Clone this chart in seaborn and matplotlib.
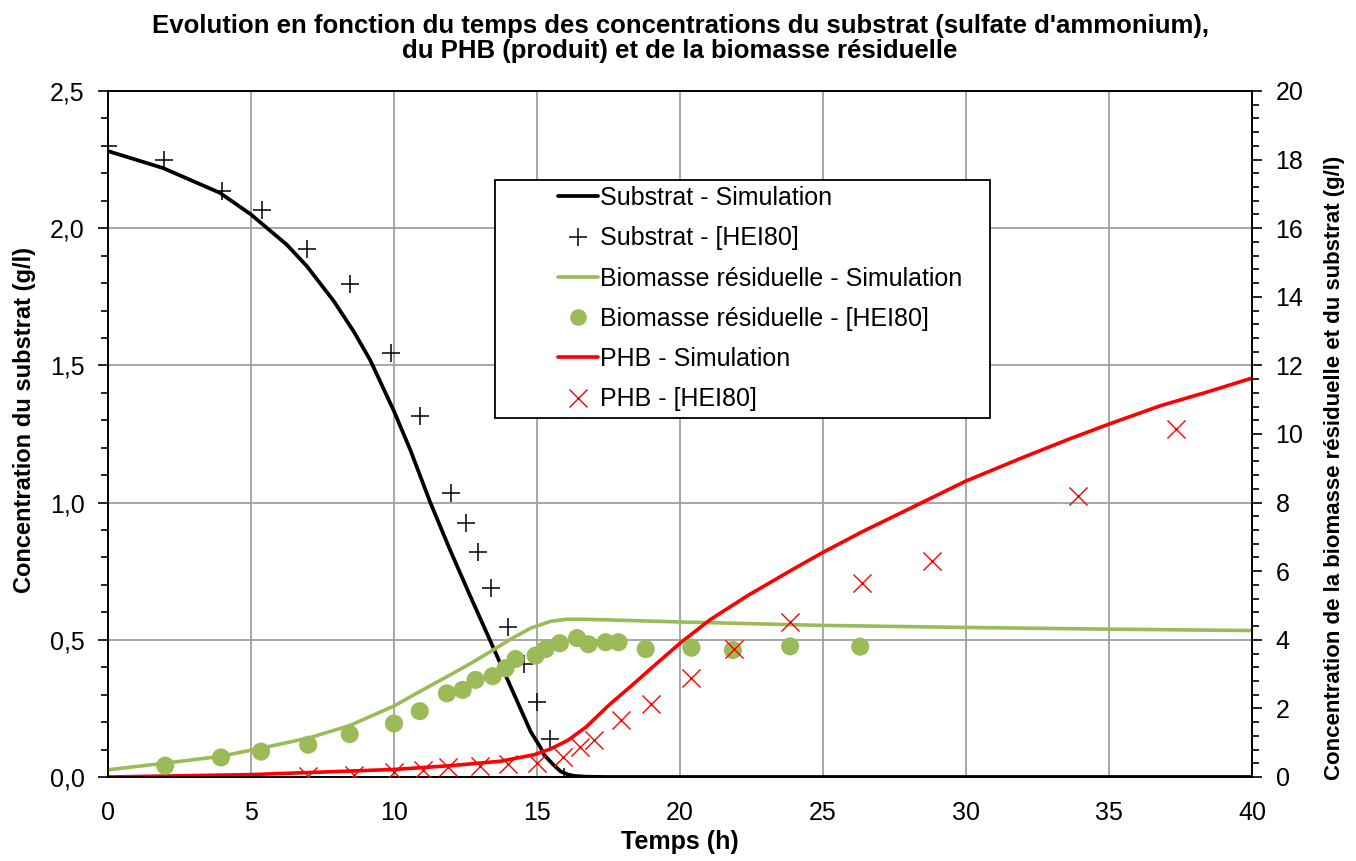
import numpy as np
import pandas as pd
import matplotlib
matplotlib.use("Agg")
import matplotlib.pyplot as plt
import seaborn as sns
from matplotlib.ticker import MultipleLocator, FuncFormatter
from matplotlib.lines import Line2D
from matplotlib.patches import Rectangle

# ---------------- data ----------------
# Substrate simulation (left axis, g/l)
sub_sim_t = [0, 1.93, 3.91, 5.0, 5.43, 6.25, 6.95, 7.89, 8.59, 9.17, 10.0, 10.57,
             11.27, 11.97, 12.68, 13.38, 14.08, 14.78, 15.11, 15.25, 15.6, 15.83,
             16.08, 16.3, 16.72, 17.5, 40]
sub_sim_v = [2.281, 2.219, 2.129, 2.050, 2.012, 1.940, 1.862, 1.735, 1.624, 1.519,
             1.333, 1.192, 1.000, 0.825, 0.656, 0.493, 0.329, 0.165, 0.110, 0.080,
             0.042, 0.020, 0.009, 0.004, 0.001, 0.0, 0.0]
# Substrate experimental [HEI80]
sub_exp_t = [0, 1.95, 4.0, 5.4, 6.95, 8.45, 9.9, 10.9, 12.0, 12.5, 12.95, 13.4,
             14.0, 14.55, 15.0, 15.45, 15.95]
sub_exp_v = [2.30, 2.25, 2.135, 2.065, 1.925, 1.795, 1.545, 1.315, 1.035, 0.925,
             0.82, 0.69, 0.545, 0.41, 0.275, 0.14, 0.0]

# Residual biomass simulation (right axis, g/l)
bio_sim_t = [0, 1.96, 3.91, 5.35, 7.03, 8.45, 10.0, 10.92, 11.86, 12.7, 13.38,
             14.08, 14.78, 15.48, 16.06, 16.5, 17.52, 20, 25, 30, 35, 40]
bio_sim_v = [0.21, 0.40, 0.60, 0.84, 1.14, 1.50, 2.07, 2.50, 2.93, 3.32, 3.66,
             4.02, 4.34, 4.54, 4.60, 4.60, 4.58, 4.52, 4.42, 4.36, 4.31, 4.27]
# Residual biomass experimental [HEI80]
bio_exp_t = [2.0, 3.95, 5.35, 7.0, 8.45, 10.0, 10.9, 11.85, 12.4, 12.85, 13.45,
             13.9, 14.25, 14.95, 15.3, 15.8, 16.4, 16.8, 17.4, 17.85, 18.8, 20.4,
             21.85, 23.85, 26.3]
bio_exp_v = [0.33, 0.57, 0.74, 0.94, 1.25, 1.56, 1.92, 2.44, 2.54, 2.83, 2.94,
             3.17, 3.44, 3.54, 3.73, 3.90, 4.05, 3.87, 3.93, 3.93, 3.73, 3.77,
             3.70, 3.81, 3.80]

# PHB simulation (right axis, g/l)
phb_sim_t = [0, 5, 10, 11.97, 13.73, 14.9, 15.48, 16.08, 16.72, 17.52, 18.33,
             19.13, 20, 21.06, 22.35, 23.79, 25, 26.37, 27.97, 30, 32, 33.6, 35,
             36.82, 38.42, 40]
phb_sim_v = [0.0, 0.07, 0.22, 0.33, 0.46, 0.65, 0.82, 1.07, 1.46, 2.10, 2.68,
             3.27, 3.90, 4.59, 5.28, 5.98, 6.55, 7.15, 7.80, 8.63, 9.32, 9.85,
             10.29, 10.83, 11.22, 11.63]
# PHB experimental [HEI80]
phb_exp_t = [7.0, 8.6, 10.0, 11.0, 11.9, 13.0, 14.0, 15.0, 15.9, 16.5, 17.0,
             17.95, 19.0, 20.4, 21.9, 23.85, 26.35, 28.8, 33.9, 37.35]
phb_exp_v = [0.02, 0.06, 0.16, 0.20, 0.28, 0.33, 0.37, 0.40, 0.59, 0.87, 1.08,
             1.65, 2.14, 2.90, 3.73, 4.53, 5.65, 6.30, 8.18, 10.14]

labels = ["Substrat - Simulation", "Substrat - [HEI80]",
          "Biomasse résiduelle - Simulation", "Biomasse résiduelle - [HEI80]",
          "PHB - Simulation", "PHB - [HEI80]"]

title = ("Evolution en fonction du temps des concentrations du substrat (sulfate d'ammonium),\n"
         "du PHB (produit) et de la biomasse résiduelle")

# ---------------- style ----------------
sns.set_style("white")
plt.rcParams["font.family"] = ["Liberation Sans", "DejaVu Sans"]
plt.rcParams["text.color"] = "black"
plt.rcParams["axes.labelcolor"] = "black"
plt.rcParams["xtick.color"] = "black"
plt.rcParams["ytick.color"] = "black"
plt.rcParams["lines.solid_joinstyle"] = "round"

GREEN = "#9BBB59"
RED = "#FF0000"
GRID = "#A0A0A0"

fig = plt.figure(figsize=(13.56, 8.61), dpi=100)
ax = fig.add_axes([108 / 1356, 1 - 777 / 861, (1252 - 108) / 1356, (777 - 91) / 861])
ax2 = ax.twinx()

# substrate on left axis
sns.lineplot(x=sub_sim_t, y=sub_sim_v, ax=ax, color="black", linewidth=2.7,
             legend=False, sort=False)
sns.scatterplot(x=sub_exp_t, y=sub_exp_v, ax=ax, marker="+", s=170,
                color="black", linewidth=1.1, legend=False, zorder=3)

# biomass & PHB on right axis
sns.lineplot(x=bio_sim_t, y=bio_sim_v, ax=ax2, color=GREEN, linewidth=2.6,
             legend=False, sort=False)
sns.scatterplot(x=bio_exp_t, y=bio_exp_v, ax=ax2, marker="o", s=170,
                color=GREEN, edgecolor="none", legend=False, zorder=3)
sns.lineplot(x=phb_sim_t, y=phb_sim_v, ax=ax2, color=RED, linewidth=2.6,
             legend=False, sort=False)
sns.scatterplot(x=phb_exp_t, y=phb_exp_v, ax=ax2, marker="x", s=170,
                color=RED, linewidth=1.0, legend=False, zorder=3)

# ---------------- axes ----------------
ax.set_xlim(0, 40)
ax.set_ylim(0, 2.5)
ax2.set_ylim(0, 20)

ax.xaxis.set_major_locator(MultipleLocator(5))
ax.xaxis.set_minor_locator(MultipleLocator(1))
ax.yaxis.set_major_locator(MultipleLocator(0.5))
ax.yaxis.set_minor_locator(MultipleLocator(0.1))
ax2.yaxis.set_major_locator(MultipleLocator(2))
ax2.yaxis.set_minor_locator(MultipleLocator(0.4))

ax.yaxis.set_major_formatter(FuncFormatter(lambda v, p: f"{v:.1f}".replace(".", ",")))
ax2.yaxis.set_major_formatter(FuncFormatter(lambda v, p: f"{v:.0f}"))

ax.grid(True, which="major", color=GRID, linewidth=1.3)
ax.set_axisbelow(True)

for a in (ax, ax2):
    for s in a.spines.values():
        s.set_color("black")
        s.set_linewidth(1.2)

ax.tick_params(axis="x", which="major", direction="out", length=7, width=1.2,
               labelsize=18, pad=10)
ax.tick_params(axis="y", which="major", direction="out", length=7, width=1.2,
               labelsize=18, pad=10)
ax.tick_params(axis="both", which="minor", direction="out", length=5, width=1.2)
ax2.tick_params(axis="y", which="major", direction="out", length=7, width=1.2,
                labelsize=18, pad=10, right=True)
ax2.tick_params(axis="y", which="minor", direction="out", length=5, width=1.2,
                right=True)

ax.set_xlabel("Temps (h)", fontsize=18, fontweight="bold", labelpad=4)
ax.set_ylabel("Concentration du substrat (g/l)", fontsize=17, fontweight="bold",
              labelpad=10)
ax.yaxis.label.set_y(0.52)
ax2.set_ylabel("Concentration de la biomasse résiduelle et du substrat (g/l)",
               fontsize=16, fontweight="bold", labelpad=15)
ax2.yaxis.label.set_y(0.45)
ax.set_title(title, fontsize=18.5, fontweight="bold", pad=24, linespacing=1.05)

# ---------------- legend ----------------
box = Rectangle(((495 - 108) / 1144, (777 - 418) / 686),
                (990 - 495) / 1144, (418 - 180) / 686,
                transform=ax2.transAxes, facecolor="white", edgecolor="black",
                linewidth=1.3, zorder=5)
ax2.add_patch(box)

handles = [
    Line2D([], [], color="black", linewidth=2.7),
    Line2D([], [], color="black", marker="+", linestyle="none", markersize=13,
           markeredgewidth=1.1),
    Line2D([], [], color=GREEN, linewidth=2.6),
    Line2D([], [], color=GREEN, marker="o", linestyle="none", markersize=12,
           markeredgewidth=0),
    Line2D([], [], color=RED, linewidth=2.6),
    Line2D([], [], color=RED, marker="x", linestyle="none", markersize=13,
           markeredgewidth=1.0),
]
leg = ax2.legend(handles, labels, loc="upper left",
                 bbox_to_anchor=((558 - 108) / 1144, (777 - 186) / 686),
                 frameon=False, fontsize=18, handlelength=1.6,
                 handletextpad=0.1, borderpad=0, borderaxespad=0,
                 labelspacing=0.65)
leg.set_zorder(6)

fig.savefig("out.png", dpi=100)
